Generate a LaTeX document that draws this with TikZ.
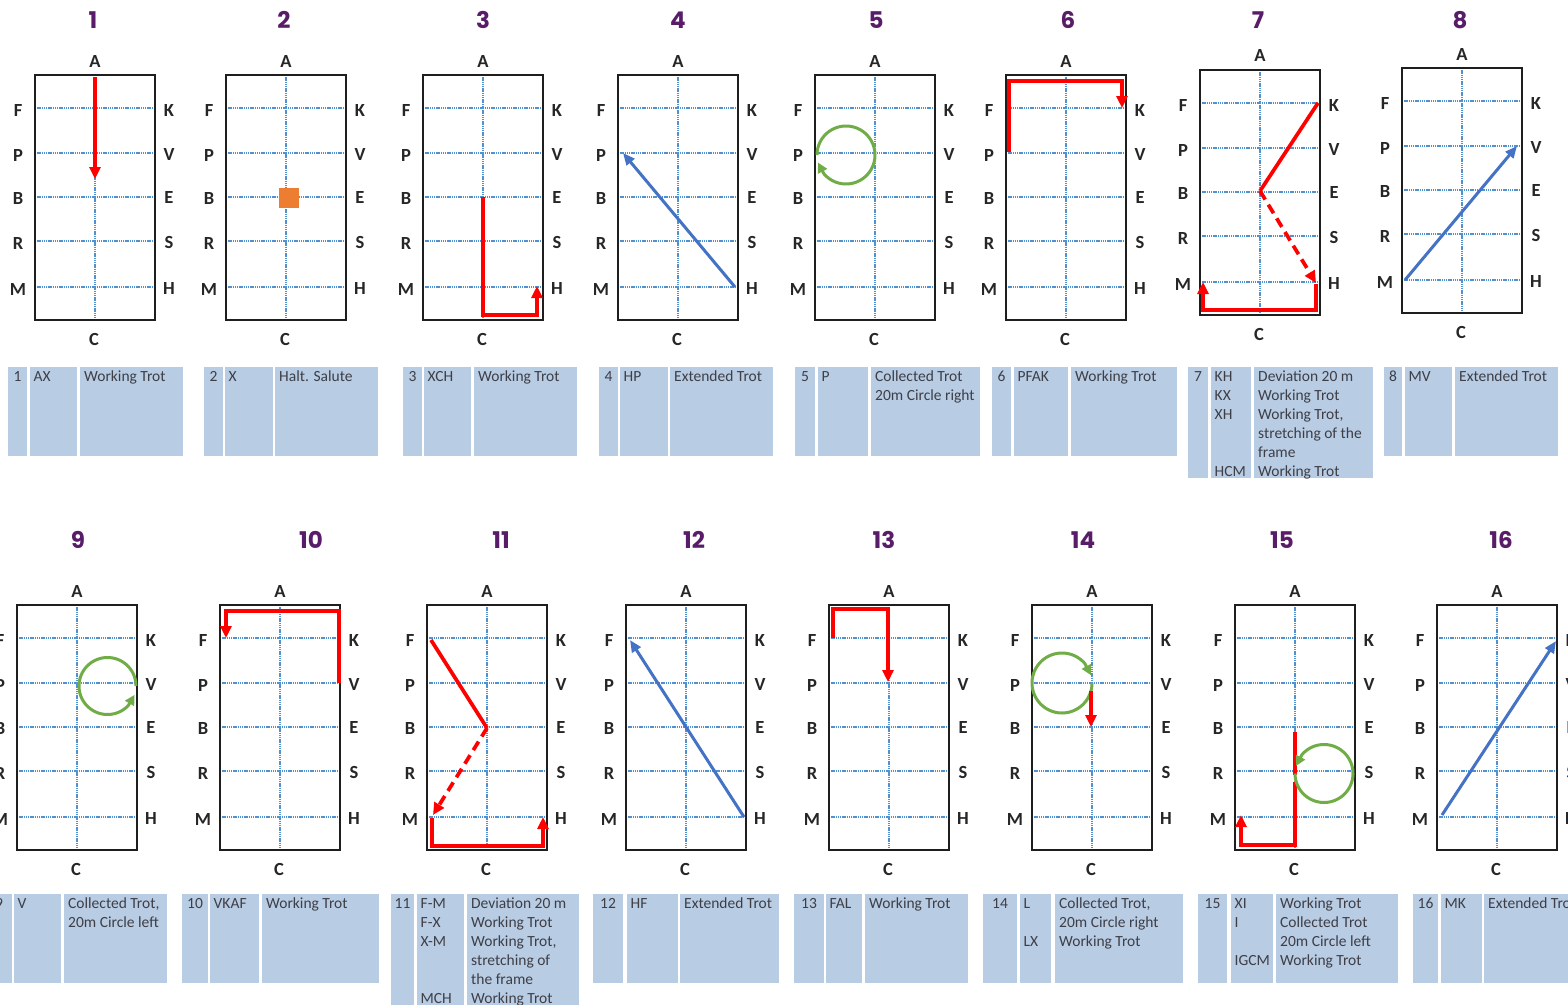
\documentclass[tikz,border=0pt]{standalone}
\usepackage{fontspec}
\setmainfont{Carlito}
\newfontfamily\lettfont{Carlito}
\newfontfamily\titlefont{Poppins}
\usetikzlibrary{arrows.meta}
\definecolor{tblue}{RGB}{184,204,228}
\definecolor{ttext}{RGB}{62,62,70}
\definecolor{gridblue}{RGB}{80,145,210}
\definecolor{pathred}{RGB}{255,0,0}
\definecolor{pathblue}{RGB}{68,114,196}
\definecolor{pathgreen}{RGB}{112,173,71}
\definecolor{haltorange}{RGB}{237,125,49}
\definecolor{titlepurple}{RGB}{88,28,104}
\definecolor{framegray}{RGB}{30,30,30}
\tikzset{
  gridline/.style={gridblue, line width=1.2pt, dash pattern=on 1.4pt off 0.8pt},
  arenabox/.style={draw=framegray, line width=2pt, minimum width=120pt, minimum height=245pt, inner sep=0pt, outer sep=0pt},
  letter/.style={font=\lettfont\bfseries\fontsize{18.5}{21}\selectfont, text=black!85, inner sep=0pt},
  titlenum/.style={font=\titlefont\bfseries\fontsize{23}{26}\selectfont, text=titlepurple, inner sep=0pt},
  tcell/.style={font=\fontsize{15.5}{19}\selectfont, text=ttext, inner sep=0pt, align=left},
  redpath/.style={pathred, line width=3.7pt, line join=miter},
  bluepath/.style={pathblue, line width=3pt},
  greenpath/.style={pathgreen, line width=3pt},
  dashpart/.style={dash pattern=on 10pt off 6pt},
  redtip/.style={-{Triangle[length=12pt,width=11pt]}},
  bluetip/.style={-{Triangle[length=12pt,width=10pt]}},
  greentip/.style={-{Triangle[length=10pt,width=10pt]}}
}
\newcommand{\arena}[3]{%
  \begin{scope}[shift={(#2,#3)}]
    \foreach \yy in {33,78,122,166,212}{\draw[gridline] (0,\yy) -- (120,\yy);}
    \draw[gridline] (60,0) -- (60,245);
    \node[arenabox] (box#1) at (60,122.5) {};
    \node[letter] (A#1) at (60,-14) {A};
    \node[letter] (C#1) at (59,264) {C};
    \foreach \lt/\ly in {F/35,P/80,B/123,R/168,M/214}{\node[letter] (\lt#1) at (-17,\ly) {\lt};}
    \foreach \lt/\ly in {K/35,V/79,E/122,S/167,H/213}{\node[letter] (\lt#1) at (134,\ly) {\lt};}
  \end{scope}}
\newcommand{\tcells}[9]{%
  \fill[tblue] (#4,#2) rectangle (#5,#3);
  \fill[tblue] (#6,#2) rectangle (#7,#3);
  \fill[tblue] (#8,#2) rectangle (#9,#3);}
\newcommand{\ttexts}[8]{%
  \node[tcell, anchor=north, align=center] (num#1) at (#3,#2+0.7) {\strut #6};
  \node[tcell, anchor=north west] (code#1) at (#4+3.5,#2+0.7) {\strut #7};
  \node[tcell, anchor=north west] (desc#1) at (#5+4,#2+0.7) {\strut #8};}
% circle with arrow: cx, cy, r, start, pre-end, end
\newcommand{\circarrow}[6]{%
  \draw[greenpath, greentip] plot[domain=#4:#5, samples=80, variable=\t] ({#1+#3*cos(\t)},{#2+#3*sin(\t)}) -- ({#1+#3*cos(#6)},{#2+#3*sin(#6)});}
\begin{document}
\begin{tikzpicture}[x=1pt,y=-1pt]
\useasboundingbox (0,0) rectangle (1568,1004);
\clip (0,0) rectangle (1568,1004);
\fill[white] (0,0) rectangle (1568,1004);

% titles
\foreach \n/\xx in {1/93,2/284,3/483,4/678,5/876,6/1068,7/1258,8/1460}{\node[titlenum] (title\n) at (\xx,20) {\n};}
\foreach \n/\xx in {9/78,10/311,11/501,12/694,13/884,14/1083,15/1282,16/1501}{\node[titlenum] (title\n) at (\xx,540) {\n};}

% arenas
\arena{1}{35}{75}
\arena{2}{226}{75}
\arena{3}{423}{75}
\arena{4}{618}{75}
\arena{5}{815}{75}
\arena{6}{1006}{75}
\arena{7}{1200}{70}
\arena{8}{1402}{68}
\arena{9}{17}{605}
\arena{10}{220}{605}
\arena{11}{427}{605}
\arena{12}{626}{605}
\arena{13}{829}{605}
\arena{14}{1032}{605}
\arena{15}{1235}{605}
\arena{16}{1437}{605}

% paths
\begin{scope}[shift={(35,75)}]
  \draw[redpath, redtip] (60,2) -- (60,104);
\end{scope}
\begin{scope}[shift={(226,75)}]
  \fill[haltorange] (53,113) rectangle (73,133);
\end{scope}
\begin{scope}[shift={(423,75)}]
  \draw[redpath, redtip] (60,122) -- (60,240) -- (114,240) -- (114,211);
\end{scope}
\begin{scope}[shift={(618,75)}]
  \draw[bluepath, bluetip] (117,212) -- (5,78);
\end{scope}
\begin{scope}[shift={(815,75)}]
  \circarrow{31}{80}{29}{180}{500}{525}
\end{scope}
\begin{scope}[shift={(1006,75)}]
  \draw[redpath, redtip] (3,77) -- (3,6) -- (116,6) -- (116,33);
\end{scope}
\begin{scope}[shift={(1200,70)}]
  \draw[redpath] (118,33) -- (60,121);
  \draw[redpath, dashpart, redtip] (60,121) -- (116,213);
  \draw[redpath, redtip] (116,214) -- (116,240) -- (3,240) -- (3,212);
\end{scope}
\begin{scope}[shift={(1402,68)}]
  \draw[bluepath, bluetip] (3,212) -- (115,78);
\end{scope}
\begin{scope}[shift={(17,605)}]
  \circarrow{90.5}{81}{28.5}{0}{-317}{-342}
\end{scope}
\begin{scope}[shift={(220,605)}]
  \draw[redpath, redtip] (119,78) -- (119,6) -- (6,6) -- (6,33);
\end{scope}
\begin{scope}[shift={(427,605)}]
  \draw[redpath] (4,35) -- (60,123);
  \draw[redpath, dashpart, redtip] (60,123) -- (6,210);
  \draw[redpath, redtip] (5,213) -- (5,241) -- (116,241) -- (116,212);
\end{scope}
\begin{scope}[shift={(626,605)}]
  \draw[bluepath, bluetip] (118,212) -- (4,35);
\end{scope}
\begin{scope}[shift={(829,605)}]
  \draw[redpath, redtip] (4,33) -- (4,4) -- (59,4) -- (59,77);
\end{scope}
\begin{scope}[shift={(1032,605)}]
  \circarrow{30}{78}{30}{0}{320}{345}
  \draw[redpath, redtip] (59,86) -- (59,122);
\end{scope}
\begin{scope}[shift={(1235,605)}]
  \draw[redpath] (60,127) -- (60,170);
  \draw[redpath, redtip] (60,177) -- (60,240) -- (6,240) -- (6,210);
  \circarrow{89}{168.5}{29}{180}{-140}{-165}
\end{scope}
\begin{scope}[shift={(1437,605)}]
  \draw[bluepath, bluetip] (5,210) -- (119,36);
\end{scope}

% tables row 1
\tcells{1}{367}{456}{8}{27}{30}{77}{80}{183}
\ttexts{1}{367}{17.5}{30}{80}{1}{AX}{Working Trot}
\tcells{2}{367}{456}{204}{223}{225}{273}{275}{378}
\ttexts{2}{367}{213.5}{225}{275}{2}{X}{Halt. Salute}
\tcells{3}{367}{456}{403}{422}{424}{471}{474}{577}
\ttexts{3}{367}{412.5}{424}{474}{3}{XCH}{Working Trot}
\tcells{4}{367}{456}{599}{618}{620}{668}{670}{773}
\ttexts{4}{367}{608.5}{620}{670}{4}{HP}{Extended Trot}
\tcells{5}{367}{456}{795}{815}{818}{868}{871}{980}
\ttexts{5}{367}{805}{818}{871}{5}{P}{Collected Trot\\20m Circle right}
\tcells{6}{367}{456}{992}{1011}{1014}{1068}{1071}{1177}
\ttexts{6}{367}{1001.5}{1014}{1071}{6}{PFAK}{Working Trot}
\tcells{7}{367}{478}{1188}{1208}{1211}{1251}{1254}{1373}
\ttexts{7}{367}{1198}{1211}{1254}{7}{KH\\KX\\XH\\~\\~\\HCM}{Deviation 20 m\\Working Trot\\Working Trot,\\stretching of the\\frame\\Working Trot}
\tcells{8}{367}{456}{1384}{1402}{1405}{1452}{1455}{1558}
\ttexts{8}{367}{1393}{1405}{1455}{8}{MV}{Extended Trot}

% tables row 2
\tcells{9}{894}{983}{-14}{12}{14}{61}{64}{167}
\ttexts{9}{894}{-1}{14}{64}{9}{V}{Collected Trot,\\20m Circle left}
\tcells{10}{894}{983}{182}{208}{210}{259}{262}{379}
\ttexts{10}{894}{195}{210}{262}{10}{VKAF}{Working Trot}
\tcells{11}{894}{1010}{391}{414}{417}{464}{467}{579}
\ttexts{11}{894}{402.5}{417}{467}{11}{F-M\\F-X\\X-M\\~\\~\\MCH}{Deviation 20 m\\Working Trot\\Working Trot,\\stretching of\\the frame\\Working Trot}
\tcells{12}{894}{983}{593}{623}{627}{678}{680}{779}
\ttexts{12}{894}{608}{627}{680}{12}{HF}{Extended Trot}
\tcells{13}{894}{983}{794}{824}{826}{862}{865}{968}
\ttexts{13}{894}{809}{826}{865}{13}{FAL}{Working Trot}
\tcells{14}{894}{983}{983}{1017}{1020}{1051}{1055}{1183}
\ttexts{14}{894}{1000}{1020}{1055}{14}{L\\~\\LX}{Collected Trot,\\20m Circle right\\Working Trot}
\tcells{15}{894}{983}{1198}{1227}{1231}{1273}{1276}{1398}
\ttexts{15}{894}{1212.5}{1231}{1276}{15}{XI\\I\\~\\IGCM}{Working Trot\\Collected Trot\\20m Circle left\\Working Trot}
\tcells{16}{894}{983}{1413}{1438}{1441}{1482}{1484}{1600}
\ttexts{16}{894}{1425.5}{1441}{1484}{16}{MK}{Extended Trot}
\end{tikzpicture}
\end{document}
